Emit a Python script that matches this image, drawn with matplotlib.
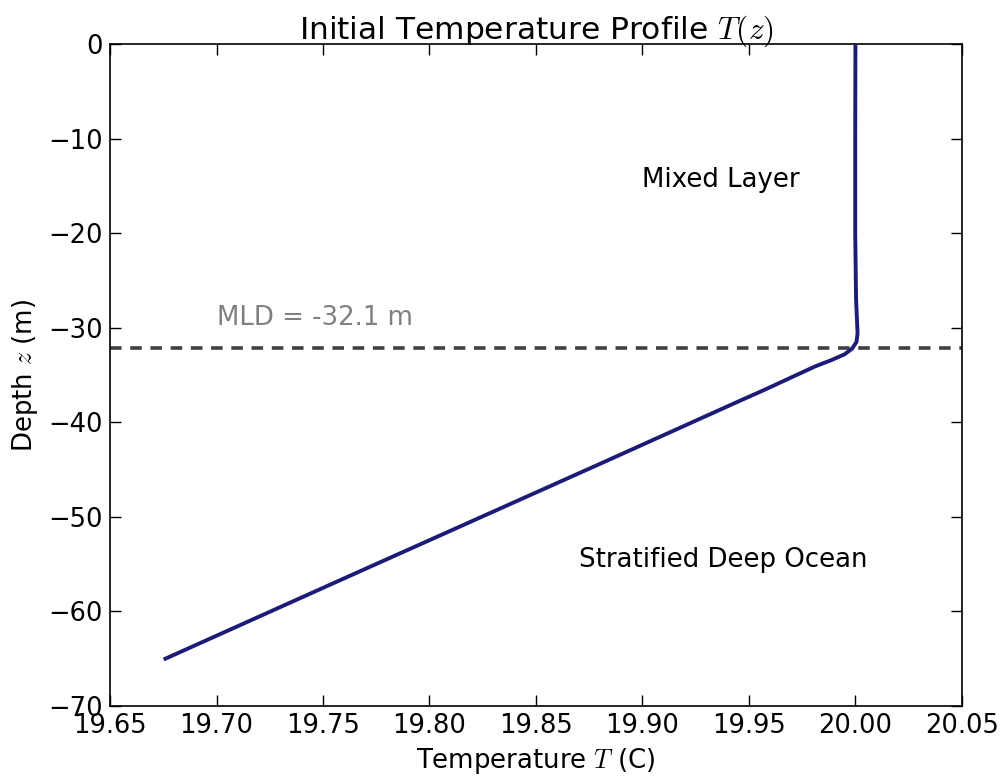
import matplotlib
matplotlib.use("Agg")
import matplotlib.pyplot as plt

# Data
depth_z = [0, -10, -20, -27, -30.6, -31.5, -32.2, -32.8, -33.4, -34.1,
           -36.6, -37.7, -44.2, -56.5, -65.0]
temp_T = [20.000, 19.9999, 19.9999, 20.0003, 20.001, 20.0005, 19.9985,
          19.995, 19.989, 19.981, 19.957, 19.946, 19.882, 19.760, 19.676]
mld = -32.1
xticks = [19.65, 19.70, 19.75, 19.80, 19.85, 19.90, 19.95, 20.00, 20.05]
yticks = [0, -10, -20, -30, -40, -50, -60, -70]

plt.rcParams['mathtext.fontset'] = 'cm'
plt.rcParams['font.family'] = 'DejaVu Sans'

fig = plt.figure(figsize=(10.02, 7.8), dpi=100)
ax = fig.add_axes([0.1098, 0.0949, 0.8502, 0.8487])

ax.plot(temp_T, depth_z, color='#1c1c78', lw=2.8, zorder=3,
        solid_joinstyle='round')
ax.axhline(mld, color='#404040', lw=2.6, linestyle=(0, (3.2, 2.4)), zorder=2)

ax.text(19.70, -29.7, 'MLD = %.1f m' % mld, color='#808080', fontsize=18.7)
ax.text(19.90, -15.1, 'Mixed Layer', color='black', fontsize=18.7)
ax.text(19.87, -55.3, 'Stratified Deep Ocean', color='black', fontsize=18.7)

ax.set_xlim(19.65, 20.05)
ax.set_ylim(-70, 0)
ax.set_xticks(xticks)
ax.set_xticklabels(['%.2f' % v for v in xticks])
ax.set_yticks(yticks)
ax.set_yticklabels(['\u2212%d' % -v if v < 0 else '%d' % v for v in yticks])
ax.tick_params(direction='in', length=8, width=1, top=True, right=True,
               labelsize=18.5, pad=5)
for s in ax.spines.values():
    s.set_linewidth(1.2)

ax.set_xlabel('Temperature $T$ (C)', fontsize=18.7, labelpad=5)
ax.set_ylabel('Depth $z$ (m)', fontsize=18.7, labelpad=6)
ax.set_title('Initial Temperature Profile $T(z)$', fontsize=22.5, pad=4)

fig.savefig('out.png', dpi=100, facecolor='white')
